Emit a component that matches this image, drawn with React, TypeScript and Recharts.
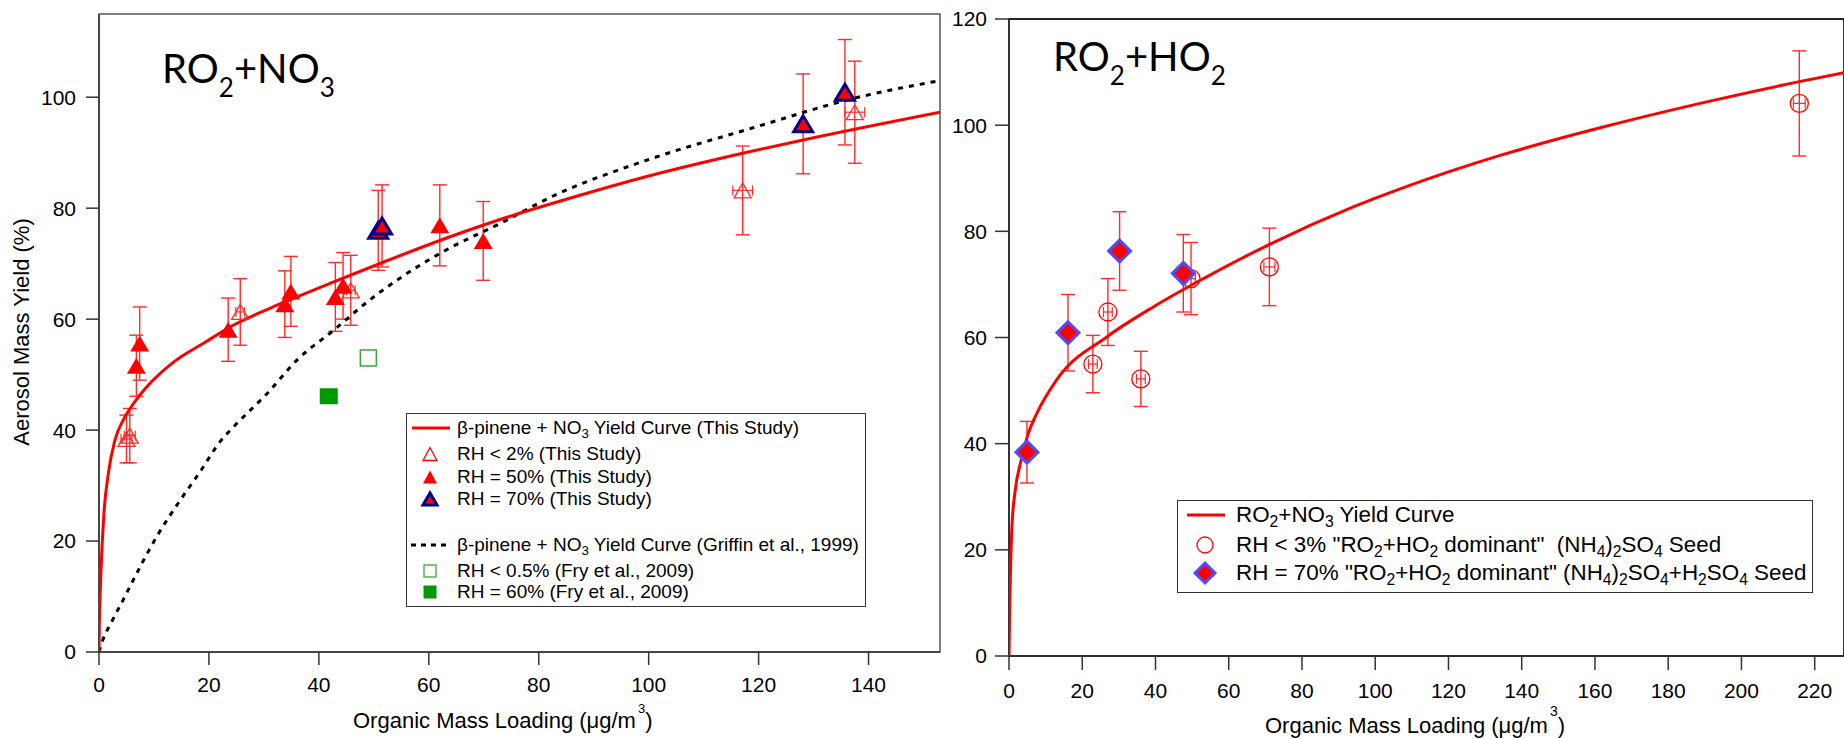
import React from 'react'
import { ComposedChart, Scatter, XAxis, YAxis, ErrorBar, ReferenceArea, Legend } from 'recharts'

// ---- RO2 + NO3 panel (left) ----
const nitrateXTicks = [0, 20, 40, 60, 80, 100, 120, 140]
const nitrateYTicks = [0, 20, 40, 60, 80, 100]

// fitted yield curve, this study
const nitrateFitCurve = [
  { x: 0, y: 0 }, { x: 0.06, y: 5 }, { x: 0.18, y: 9.4 }, { x: 0.5, y: 17.8 }, { x: 0.9, y: 25.0 },
  { x: 1.7, y: 32.2 }, { x: 2.9, y: 38.2 }, { x: 4.4, y: 41.8 }, { x: 6.3, y: 44.8 }, { x: 8.7, y: 47.8 },
  { x: 13.5, y: 52.2 }, { x: 19.6, y: 56.0 }, { x: 23.5, y: 58.4 }, { x: 33.6, y: 63.0 }, { x: 42.7, y: 66.7 },
  { x: 51.8, y: 70.3 }, { x: 64, y: 74.9 }, { x: 73.1, y: 78.0 }, { x: 85, y: 81.6 }, { x: 100, y: 85.8 },
  { x: 117.1, y: 89.9 }, { x: 128.1, y: 92.3 }, { x: 153, y: 97.3 },
]

// Griffin et al., 1999 yield curve
const griffinCurve = [
  { x: 0, y: 0 }, { x: 0.2, y: 0.7 }, { x: 2.6, y: 6.0 }, { x: 4.4, y: 9.4 }, { x: 7.5, y: 15.4 },
  { x: 10.5, y: 20.8 }, { x: 14.8, y: 27.4 }, { x: 18.4, y: 32.5 }, { x: 22.1, y: 38.0 }, { x: 24.5, y: 40.6 },
  { x: 30.6, y: 46.6 }, { x: 36.0, y: 52.6 }, { x: 42.7, y: 58.0 }, { x: 48.8, y: 63.1 }, { x: 60.9, y: 71.2 },
  { x: 64, y: 72.9 }, { x: 73.1, y: 77.3 }, { x: 82.2, y: 82.0 }, { x: 100.4, y: 88.9 }, { x: 118.7, y: 94.4 },
  { x: 136.9, y: 99.7 }, { x: 153, y: 103.0 },
]

const nitrateDry = [
  { x: 5.0, y: 38.4, ey: 4.3, ex: 1.0 },
  { x: 5.6, y: 39.0, ey: 4.9, ex: 1.0 },
  { x: 25.7, y: 61.3, ey: 6.0, ex: 0.8 },
  { x: 45.8, y: 65.2, ey: 6.3, ex: 0.8 },
  { x: 117.1, y: 83.2, ey: 8.0, ex: 1.8 },
  { x: 137.5, y: 97.3, ey: 9.2, ex: 1.8 },
]

const nitrate50 = [
  { x: 6.8, y: 51.6, ey: 5.5 },
  { x: 7.4, y: 55.6, ey: 6.6 },
  { x: 23.5, y: 58.1, ey: 5.7 },
  { x: 33.8, y: 62.7, ey: 6.0 },
  { x: 34.9, y: 65.0, ey: 6.3 },
  { x: 43.0, y: 64.0, ey: 6.2 },
  { x: 44.4, y: 66.0, ey: 6.0 },
  { x: 62.0, y: 76.9, ey: 7.3 },
  { x: 69.9, y: 74.1, ey: 7.1 },
]

const nitrate70 = [
  { x: 50.8, y: 76.0, ey: 7.2 },
  { x: 51.5, y: 76.8, ey: 7.4 },
  { x: 128.1, y: 95.2, ey: 9.0 },
  { x: 135.7, y: 100.9, ey: 9.5 },
]

const fryDry = [{ x: 49.0, y: 53.0 }]
const fryWet = [{ x: 41.8, y: 46.1 }]

// ---- RO2 + HO2 panel (right) ----
const peroxyXTicks = [0, 20, 40, 60, 80, 100, 120, 140, 160, 180, 200, 220]
const peroxyYTicks = [0, 20, 40, 60, 80, 100, 120]

const peroxyFitCurve = [
  { x: 0, y: 0 }, { x: 0.17, y: 8.0 }, { x: 0.35, y: 14.3 }, { x: 0.8, y: 24.3 }, { x: 1.7, y: 31.2 },
  { x: 3.1, y: 36.3 }, { x: 5.1, y: 41.6 }, { x: 7.6, y: 45.7 }, { x: 13.1, y: 52.1 }, { x: 26.7, y: 60.1 },
  { x: 39.5, y: 65.8 }, { x: 53.1, y: 71.1 }, { x: 71.3, y: 77.6 }, { x: 94.0, y: 84.6 }, { x: 106.8, y: 88.0 },
  { x: 134.1, y: 94.3 }, { x: 161.4, y: 99.5 }, { x: 188.7, y: 104.1 }, { x: 215.8, y: 108.2 },
  { x: 228, y: 109.9 },
]

const peroxyDry = [
  { x: 22.9, y: 55.0, ey: 5.4, ex: 1.2 },
  { x: 27.0, y: 64.8, ey: 6.3, ex: 1.2 },
  { x: 36.0, y: 52.2, ey: 5.2, ex: 1.2 },
  { x: 49.7, y: 71.1, ey: 6.8, ex: 1.2 },
  { x: 71.1, y: 73.3, ey: 7.3, ex: 1.5 },
  { x: 215.8, y: 104.1, ey: 9.9, ex: 1.6 },
]

const peroxy70 = [
  { x: 4.9, y: 38.4, ey: 5.8 },
  { x: 16.1, y: 60.9, ey: 7.2 },
  { x: 30.2, y: 76.3, ey: 7.4 },
  { x: 47.6, y: 72.1, ey: 7.3 },
]

const FONT = '"Liberation Sans", Arial, sans-serif'
const RED = '#ff0000'
const ERR = '#ff2a2a'
const tickStyle = { fontSize: 21, fill: '#000', fontFamily: FONT }
const axisStroke = { stroke: '#333', strokeWidth: 1.5 }

const tri = (cx: number, cy: number, w: number, h: number) =>
  `${cx},${cy - h / 2} ${cx - w / 2},${cy + h / 2} ${cx + w / 2},${cy + h / 2}`
const diamond = (cx: number, cy: number, r: number) =>
  `${cx},${cy - r} ${cx + r},${cy} ${cx},${cy + r} ${cx - r},${cy}`

const noMarker = () => <g />
const triOpen = (p: any) => <polygon points={tri(p.cx, p.cy, 17, 15)} fill="none" stroke={ERR} strokeWidth={1.3} />
const triFill = (p: any) => <polygon points={tri(p.cx, p.cy, 19, 16)} fill={RED} />
const triBlue = (p: any) => (
  <polygon points={tri(p.cx, p.cy, 19, 16)} fill={RED} stroke="#00008b" strokeWidth={3} strokeLinejoin="miter" />
)
const sqOpen = (p: any) => <rect x={p.cx - 8} y={p.cy - 8} width={16} height={16} fill="none" stroke="#33aa33" strokeWidth={1.5} />
const sqFill = (p: any) => <rect x={p.cx - 9} y={p.cy - 8} width={18} height={16} fill="#009900" />
const circOpen = (p: any) => <circle cx={p.cx} cy={p.cy} r={9} fill="none" stroke={RED} strokeWidth={1.3} />
const diaBlue = (p: any) => <polygon points={diamond(p.cx, p.cy, 11)} fill={RED} stroke="#4d4dff" strokeWidth={3} />

const Sub = ({ children }: { children: React.ReactNode }) => (
  <span style={{ fontSize: '0.7em', verticalAlign: '-0.3em', lineHeight: 0 }}>{children}</span>
)

function Swatch({ kind, mx }: { kind: string; mx: number }) {
  const c = { cx: mx, cy: 11 }
  return (
    <svg width={70} height={22} style={{ position: 'absolute', left: 0, top: 0, overflow: 'visible' }}>
      {kind === 'redLine' && <line x1={mx - 18} x2={mx + 20} y1={11} y2={11} stroke={RED} strokeWidth={3} />}
      {kind === 'dashLine' && (
        <line x1={mx - 19} x2={mx + 20} y1={11} y2={11} stroke="#000" strokeWidth={3} strokeDasharray="5 5" />
      )}
      {kind === 'triOpen' && <polygon points={tri(c.cx, c.cy, 14, 13)} fill="none" stroke={RED} strokeWidth={1.3} />}
      {kind === 'triFill' && <polygon points={tri(c.cx, c.cy, 14, 13)} fill={RED} />}
      {kind === 'triBlue' && <polygon points={tri(c.cx, c.cy, 14, 12)} fill={RED} stroke="#00008b" strokeWidth={3} />}
      {kind === 'sqOpen' && <rect x={mx - 6} y={5} width={12} height={12} fill="none" stroke="#33aa33" strokeWidth={1.3} />}
      {kind === 'sqFill' && <rect x={mx - 6.5} y={4.5} width={13} height={13} fill="#009900" />}
      {kind === 'circOpen' && <circle cx={mx} cy={11} r={8} fill="none" stroke={RED} strokeWidth={1.3} />}
      {kind === 'diaBlue' && <polygon points={diamond(mx, 11, 10)} fill={RED} stroke="#4d4dff" strokeWidth={3} />}
    </svg>
  )
}

function LegendBox({
  rows, width, height, fontSize, textLeft, markerX,
}: {
  rows: { cy: number; kind: string; text: React.ReactNode }[]
  width: number
  height: number
  fontSize: number
  textLeft: number
  markerX: number
}) {
  return (
    <div
      style={{
        position: 'relative', width, height, boxSizing: 'border-box', border: '1.5px solid #333',
        background: '#fff', fontFamily: FONT, fontSize, color: '#000',
      }}
    >
      {rows.map((r, i) => (
        <div key={i} style={{ position: 'absolute', left: 0, top: r.cy - 11, height: 22, width: width - 4 }}>
          <Swatch kind={r.kind} mx={markerX} />
          <div style={{ position: 'absolute', left: textLeft, top: 0, lineHeight: '22px', whiteSpace: 'pre' }}>{r.text}</div>
        </div>
      ))}
    </div>
  )
}

const nitrateLegendRows = [
  { cy: 14, kind: 'redLine', text: <>β-pinene + NO<Sub>3</Sub> Yield Curve (This Study)</> },
  { cy: 40, kind: 'triOpen', text: 'RH < 2% (This Study)' },
  { cy: 63, kind: 'triFill', text: 'RH = 50% (This Study)' },
  { cy: 85, kind: 'triBlue', text: 'RH = 70% (This Study)' },
  { cy: 131, kind: 'dashLine', text: <>β-pinene + NO<Sub>3</Sub> Yield Curve (Griffin et al., 1999)</> },
  { cy: 157, kind: 'sqOpen', text: 'RH < 0.5% (Fry et al., 2009)' },
  { cy: 178, kind: 'sqFill', text: 'RH = 60% (Fry et al., 2009)' },
]

const peroxyLegendRows = [
  { cy: 14, kind: 'redLine', text: <>RO<Sub>2</Sub>+NO<Sub>3</Sub> Yield Curve</> },
  {
    cy: 44, kind: 'circOpen',
    text: <>RH &lt; 3% "RO<Sub>2</Sub>+HO<Sub>2</Sub> dominant"  (NH<Sub>4</Sub>)<Sub>2</Sub>SO<Sub>4</Sub> Seed</>,
  },
  {
    cy: 72, kind: 'diaBlue',
    text: <>RH = 70% "RO<Sub>2</Sub>+HO<Sub>2</Sub> dominant" (NH<Sub>4</Sub>)<Sub>2</Sub>SO<Sub>4</Sub>+H<Sub>2</Sub>SO<Sub>4</Sub> Seed</>,
  },
]

function NitratePanel() {
  return (
    <ComposedChart width={960} height={739} margin={{ top: 14, right: 20, left: 39, bottom: 37 }}>
      <XAxis type="number" dataKey="x" domain={[0, 153]} ticks={nitrateXTicks} height={50} tickSize={13}
        tickMargin={12} tick={tickStyle} axisLine={axisStroke} tickLine={axisStroke} allowDataOverflow />
      <YAxis type="number" dataKey="y" domain={[0, 115]} ticks={nitrateYTicks} width={60} tickSize={13}
        tickMargin={10} tick={tickStyle} axisLine={axisStroke} tickLine={axisStroke} allowDataOverflow />
      <ReferenceArea x1={0} x2={153} y1={0} y2={115} fill="none" stroke="#555" strokeWidth={1.5} />
      <Scatter data={griffinCurve} shape={noMarker} lineJointType="monotoneX"
        line={{ stroke: '#000', strokeWidth: 3, strokeDasharray: '5 6' }} isAnimationActive={false} />
      <Scatter data={nitrateFitCurve} shape={noMarker} lineJointType="monotoneX"
        line={{ stroke: RED, strokeWidth: 3 }} isAnimationActive={false} />
      <Scatter data={nitrateDry} shape={triOpen} isAnimationActive={false}>
        <ErrorBar dataKey="ey" direction="y" width={7} stroke={ERR} strokeWidth={1.4} isAnimationActive={false} />
        <ErrorBar dataKey="ex" direction="x" width={5} stroke={ERR} strokeWidth={1.2} isAnimationActive={false} />
      </Scatter>
      <Scatter data={nitrate50} shape={triFill} isAnimationActive={false}>
        <ErrorBar dataKey="ey" direction="y" width={7} stroke={ERR} strokeWidth={1.4} isAnimationActive={false} />
      </Scatter>
      <Scatter data={nitrate70} shape={triBlue} isAnimationActive={false}>
        <ErrorBar dataKey="ey" direction="y" width={7} stroke={ERR} strokeWidth={1.4} isAnimationActive={false} />
      </Scatter>
      <Scatter data={fryDry} shape={sqOpen} isAnimationActive={false} />
      <Scatter data={fryWet} shape={sqFill} isAnimationActive={false} />
      <Legend layout="vertical" align="center" verticalAlign="middle"
        wrapperStyle={{ left: 406, top: 413, width: 460, height: 194 }}
        content={() => (
          <LegendBox rows={nitrateLegendRows} width={460} height={194} fontSize={19} textLeft={50} markerX={23} />
        )} />
    </ComposedChart>
  )
}

function PeroxyPanel() {
  return (
    <ComposedChart width={914} height={739} margin={{ top: 19, right: 0, left: 19, bottom: 33 }}>
      <XAxis type="number" dataKey="x" domain={[0, 228]} ticks={peroxyXTicks} height={50} tickSize={14}
        tickMargin={13} tick={tickStyle} axisLine={axisStroke} tickLine={axisStroke} allowDataOverflow />
      <YAxis type="number" dataKey="y" domain={[0, 120]} ticks={peroxyYTicks} width={60} tickSize={14}
        tickMargin={8} tick={tickStyle} axisLine={axisStroke} tickLine={axisStroke} allowDataOverflow />
      <ReferenceArea x1={0} x2={228} y1={0} y2={120} fill="none" stroke="#222" strokeWidth={1.8} />
      <Scatter data={peroxyFitCurve} shape={noMarker} lineJointType="monotoneX"
        line={{ stroke: RED, strokeWidth: 3 }} isAnimationActive={false} />
      <Scatter data={peroxyDry} shape={circOpen} isAnimationActive={false}>
        <ErrorBar dataKey="ey" direction="y" width={7} stroke={ERR} strokeWidth={1.4} isAnimationActive={false} />
        <ErrorBar dataKey="ex" direction="x" width={5} stroke={ERR} strokeWidth={1.2} isAnimationActive={false} />
      </Scatter>
      <Scatter data={peroxy70} shape={diaBlue} isAnimationActive={false}>
        <ErrorBar dataKey="ey" direction="y" width={7} stroke={ERR} strokeWidth={1.4} isAnimationActive={false} />
      </Scatter>
      <Legend layout="vertical" align="center" verticalAlign="middle"
        wrapperStyle={{ left: 247, top: 500, width: 636, height: 93 }}
        content={() => (
          <LegendBox rows={peroxyLegendRows} width={636} height={93} fontSize={22.4} textLeft={58} markerX={27} />
        )} />
    </ComposedChart>
  )
}

export default function App() {
  return (
    <div style={{ position: 'relative', width: 1844, height: 739, overflow: 'hidden', background: '#fff' }}>
      <style>{'body{margin:0}'}</style>
      <div style={{ position: 'absolute', left: 0, top: 0 }}>
        <NitratePanel />
      </div>
      <div style={{ position: 'absolute', left: 930, top: 0 }}>
        <PeroxyPanel />
      </div>
      <svg width={1844} height={739} style={{ position: 'absolute', left: 0, top: 0, pointerEvents: 'none' }}>
        <text x={162} y={83} fontFamily="Lato, sans-serif" fontSize={40} fill="#000">
          RO<tspan dy={14} fontSize={26}>2</tspan><tspan dy={-14}>+NO</tspan><tspan dy={14} fontSize={26}>3</tspan>
        </text>
        <text x={1053} y={71} fontFamily="Lato, sans-serif" fontSize={40} fill="#000">
          RO<tspan dy={14} fontSize={26}>2</tspan><tspan dy={-14}>+HO</tspan><tspan dy={14} fontSize={26}>2</tspan>
        </text>
        <text transform="translate(29,332) rotate(-90)" textAnchor="middle" fontFamily={FONT} fontSize={22} fill="#000">
          Aerosol Mass Yield (%)
        </text>
        <text x={353} y={728} fontFamily={FONT} fontSize={22} fill="#000">
          Organic Mass Loading (μg/m<tspan dx={2} dy={-15} fontSize={13}>3</tspan><tspan dy={15}>)</tspan>
        </text>
        <text x={1265} y={733} fontFamily={FONT} fontSize={22} fill="#000">
          Organic Mass Loading (μg/m<tspan dx={2} dy={-17} fontSize={14}>3</tspan><tspan dy={17}>)</tspan>
        </text>
      </svg>
    </div>
  )
}
